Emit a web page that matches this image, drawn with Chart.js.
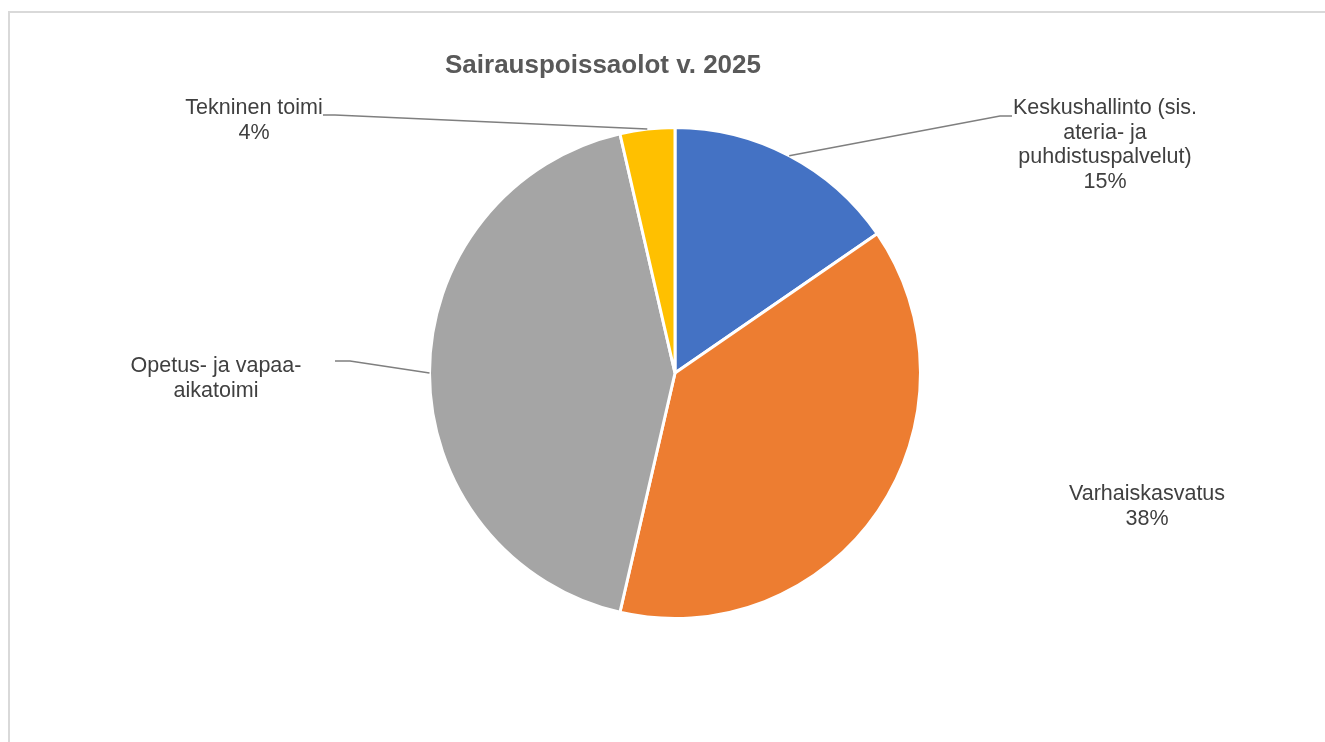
<!DOCTYPE html>
<html>
<head>
<meta charset="utf-8">
<style>
  html, body { margin: 0; padding: 0; background: #fff; }
  #wrap { position: relative; width: 1325px; height: 742px; }
</style>
<script src="https://cdn.jsdelivr.net/npm/chart.js@4.4.1/dist/chart.umd.min.js"></script>
</head>
<body>
<div id="wrap"><canvas id="chart" width="1325" height="742"></canvas></div>
<script>
const titleText = 'Sairauspoissaolot v. 2025'
const categories = ['Keskushallinto (sis. ateria- ja puhdistuspalvelut)', 'Varhaiskasvatus', 'Opetus- ja vapaa-aikatoimi', 'Tekninen toimi']
const values = [15.4, 38.2, 42.8, 3.6]
const colors = ['#4472C4', '#ED7D31', '#A5A5A5', '#FFC000']

// how each data label is wrapped, and whether the percentage is shown
const labelLines = [
    ['Keskushallinto (sis.', 'ateria- ja', 'puhdistuspalvelut)'],
    ['Varhaiskasvatus'],
    ['Opetus- ja vapaa-', 'aikatoimi'],
    ['Tekninen toimi']
]
const showPct = [true, true, false, true]

// label placement (centre x, first line y) and leader elbows
const labelPos = [
    {x: 1105, y: 108, elbow: [[1000, 116], [1012, 116]]},
    {x: 1147, y: 494, elbow: null},
    {x: 216, y: 366, elbow: [[350, 361], [335, 361]]},
    {x: 254, y: 108, elbow: [[335, 115], [323, 115]]}
]

const frame = {
    id: 'frame',
    beforeDraw(chart) {
        const ctx = chart.ctx
        ctx.save()
        ctx.fillStyle = '#fff'
        ctx.fillRect(0, 0, chart.width, chart.height)
        ctx.strokeStyle = '#d9d9d9'
        ctx.lineWidth = 2
        ctx.strokeRect(9, 12, 1330, 760)
        ctx.restore()
    }
}

const pieLabels = {
    id: 'pieLabels',
    afterDraw(chart) {
        const ctx = chart.ctx
        const meta = chart.getDatasetMeta(0)
        const total = values.reduce((a, b) => a + b, 0)

        ctx.save()
        ctx.font = 'bold 26px "Liberation Sans", Arial, sans-serif'
        ctx.fillStyle = '#595959'
        ctx.textAlign = 'center'
        ctx.textBaseline = 'middle'
        ctx.fillText(titleText, 603, 66)

        meta.data.forEach((arc, i) => {
            const p = arc.getProps(['x', 'y', 'startAngle', 'endAngle', 'outerRadius'], true)
            const mid = (p.startAngle + p.endAngle) / 2
            const sx = p.x + Math.cos(mid) * p.outerRadius
            const sy = p.y + Math.sin(mid) * p.outerRadius
            const pos = labelPos[i]

            if (pos.elbow) {
                ctx.beginPath()
                ctx.strokeStyle = '#7f7f7f'
                ctx.lineWidth = 1.5
                ctx.moveTo(sx, sy)
                pos.elbow.forEach(pt => ctx.lineTo(pt[0], pt[1]))
                ctx.stroke()
            }

            let lines = labelLines[i].slice()
            if (showPct[i]) lines.push(Math.round(values[i] / total * 100) + '%')

            ctx.font = '21.5px "Liberation Sans", Arial, sans-serif'
            ctx.fillStyle = '#404040'
            lines.forEach((t, k) => ctx.fillText(t, pos.x, pos.y + k * 24.6))
        })
        ctx.restore()
    }
}

new Chart(document.getElementById('chart'), {
    type: 'pie',
    data: {
        labels: categories,
        datasets: [{
            data: values,
            backgroundColor: colors,
            borderColor: '#fff',
            borderWidth: 3
        }]
    },
    options: {
        responsive: false,
        animation: false,
        layout: { padding: { top: 126, bottom: 122, left: 428, right: 403 } },
        plugins: {
            legend: { display: false },
            tooltip: { enabled: false }
        }
    },
    plugins: [frame, pieLabels]
})
</script>
</body>
</html>
